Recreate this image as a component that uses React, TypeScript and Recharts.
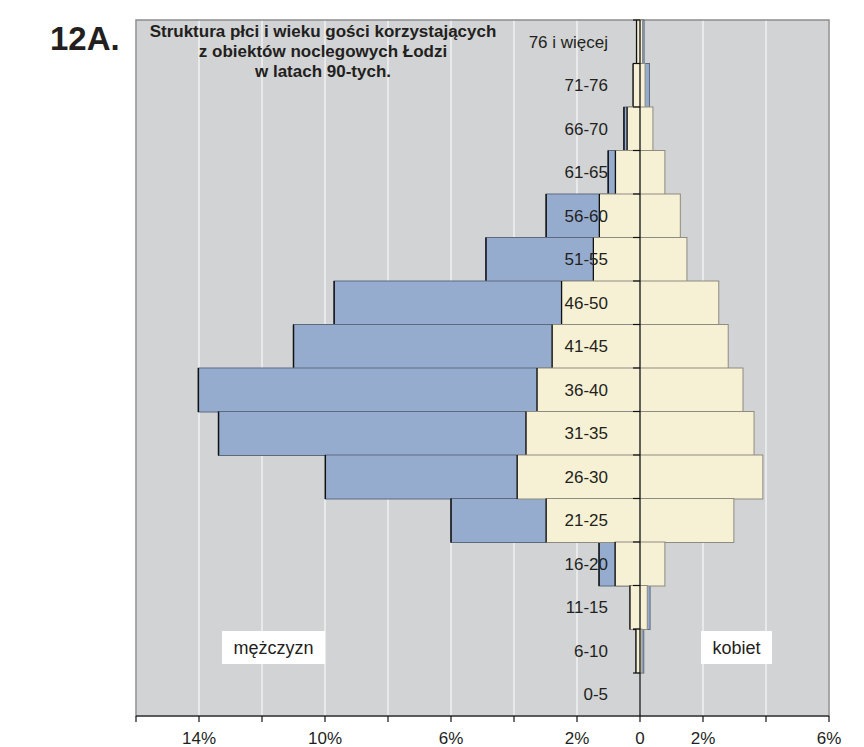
import React from 'react';
import { BarChart, Bar, XAxis, YAxis, CartesianGrid, ReferenceLine, ReferenceArea } from 'recharts';

const categories = [
  '76 i więcej', '71-76', '66-70', '61-65', '56-60', '51-55', '46-50', '41-45',
  '36-40', '31-35', '26-30', '21-25', '16-20', '11-15', '6-10', '0-5',
];
// men (blue) bar extents, in % (negative = left of 0)
const menFrom: (number | null)[] = [0, 0, -0.51, -1.01, -2.98, -4.89, -9.71, -11.0, -14.02, -13.38, -9.99, -6.0, -1.3, 0, 0, null];
const menTo: (number | null)[] = [0.13, 0.3, 0, 0, 0, 0, 0, 0, 0, 0, 0, 0, 0, 0.32, 0.12, null];
// women (cream) bar extents, in %
const womenFrom: (number | null)[] = [-0.11, -0.22, -0.41, -0.78, -1.29, -1.48, -2.49, -2.79, -3.27, -3.62, -3.9, -2.98, -0.79, -0.32, -0.13, null];
const womenTo: (number | null)[] = [0.08, 0.16, 0.41, 0.79, 1.28, 1.49, 2.5, 2.8, 3.27, 3.62, 3.9, 2.98, 0.79, 0.23, 0.06, null];

const xTicks = [-16, -14, -12, -10, -8, -6, -4, -2, 0, 2, 4, 6];
const labeledTicks = [-14, -10, -6, -2, 0, 2, 6];

const titleLines = [
  'Struktura płci i wieku gości korzystających',
  'z obiektów noclegowych Łodzi',
  'w latach 90-tych.',
];

const data = categories.map((age, i) => ({
  age,
  men: menFrom[i] === null ? null : [menFrom[i], menTo[i]],
  women: womenFrom[i] === null ? null : [womenFrom[i], womenTo[i]],
}));

const FONT = '"Liberation Sans", Arial, Helvetica, sans-serif';
const TEXT = '#231f20';

const MenShape = (p: any) => {
  const { x, y, width, height } = p;
  if (width == null || height == null || !isFinite(width) || Math.abs(width) < 0.01) return null;
  const x0 = Math.min(x, x + width);
  const w = Math.abs(width);
  return (
    <g>
      <rect x={x0} y={y} width={w} height={height} fill="#96ACCF" stroke="#5d6a7e" strokeWidth={1} />
      <line x1={x0} y1={y} x2={x0} y2={y + height} stroke="#111" strokeWidth={1.5} />
    </g>
  );
};

const WomenShape = (p: any) => {
  const { x, y, width, height, payload } = p;
  if (width == null || height == null || !isFinite(width) || Math.abs(width) < 0.01) return null;
  const x0 = Math.min(x, x + width);
  const w = Math.abs(width);
  const [lo, hi] = payload.women as number[];
  const zx = x0 + (w * (0 - lo)) / (hi - lo);
  return (
    <g>
      <rect x={x0} y={y} width={w} height={height} fill="#F6F1D4" stroke="#8e8b80" strokeWidth={1} />
      <line x1={x0} y1={y} x2={x0} y2={y + height} stroke="#111" strokeWidth={1.3} />
      <line x1={zx - 7} y1={y} x2={zx} y2={y} stroke="#111" strokeWidth={1.2} />
      <line x1={zx - 7} y1={y + height} x2={zx} y2={y + height} stroke="#111" strokeWidth={1.2} />
    </g>
  );
};

const CategoryTick = (p: any) => {
  const { y, payload } = p;
  return (
    <text x={608} y={y} dy={6} textAnchor="end" fontSize={17} fontFamily={FONT} fill={TEXT}>
      {payload.value}
    </text>
  );
};

const XTick = (p: any) => {
  const { x, y, payload } = p;
  const v = payload.value as number;
  if (!labeledTicks.includes(v)) return null;
  const label = v === 0 ? '0' : `${Math.abs(v)}%`;
  return (
    <text x={x} y={y} dy={12} textAnchor="middle" fontSize={17} fontFamily={FONT} fill={TEXT}>
      {label}
    </text>
  );
};

export default function App() {
  return (
    <div style={{ position: 'absolute', left: 0, top: 0, width: 864, height: 747, background: '#fff' }}>
      <BarChart
        width={864}
        height={747}
        data={data}
        layout="vertical"
        margin={{ top: 20, right: 35, bottom: 0, left: 0 }}
        barCategoryGap={0}
        barGap={0}
      >
        <CartesianGrid horizontal={false} vertical stroke="#ffffff" strokeWidth={1} fill="#D1D3D4" fillOpacity={1} />
        <XAxis
          type="number"
          domain={[-16, 6]}
          ticks={xTicks}
          interval={0}
          allowDataOverflow
          height={31}
          tickSize={6}
          tickMargin={10}
          axisLine={{ stroke: '#111', strokeWidth: 1.2 }}
          tickLine={{ stroke: '#111', strokeWidth: 1.2 }}
          tick={<XTick />}
        />
        <YAxis yAxisId="w" type="category" dataKey="age" hide />
        <Bar dataKey="men" shape={<MenShape />} isAnimationActive={false} />
        <Bar yAxisId="w" dataKey="women" shape={<WomenShape />} isAnimationActive={false} />
        <ReferenceLine x={0} stroke="#111" strokeWidth={1.3} />
        <ReferenceArea x1={-16} x2={6} fill="none" stroke="#8d8d8d" strokeWidth={1.5} />
        <YAxis type="category" dataKey="age" width={136} axisLine={false} tickLine={false} tick={<CategoryTick />} interval={0} />
      </BarChart>
      <svg width={864} height={747} style={{ position: 'absolute', left: 0, top: 0, pointerEvents: 'none' }}>
        <text x={50} y={50} fontSize={33} fontWeight="bold" fontFamily={FONT} fill={TEXT}>12A.</text>
        {titleLines.map((t, i) => (
          <text key={i} x={323} y={37 + i * 20} textAnchor="middle" fontSize={17} fontWeight="bold" fontFamily={FONT} fill={TEXT}>
            {t}
          </text>
        ))}
        <rect x={222} y={631} width={103} height={33} fill="#fff" />
        <text x={273.5} y={654} textAnchor="middle" fontSize={18} fontFamily={FONT} fill={TEXT}>mężczyzn</text>
        <rect x={701} y={631} width={71} height={33} fill="#fff" />
        <text x={736.5} y={654} textAnchor="middle" fontSize={18} fontFamily={FONT} fill={TEXT}>kobiet</text>
      </svg>
    </div>
  );
}
